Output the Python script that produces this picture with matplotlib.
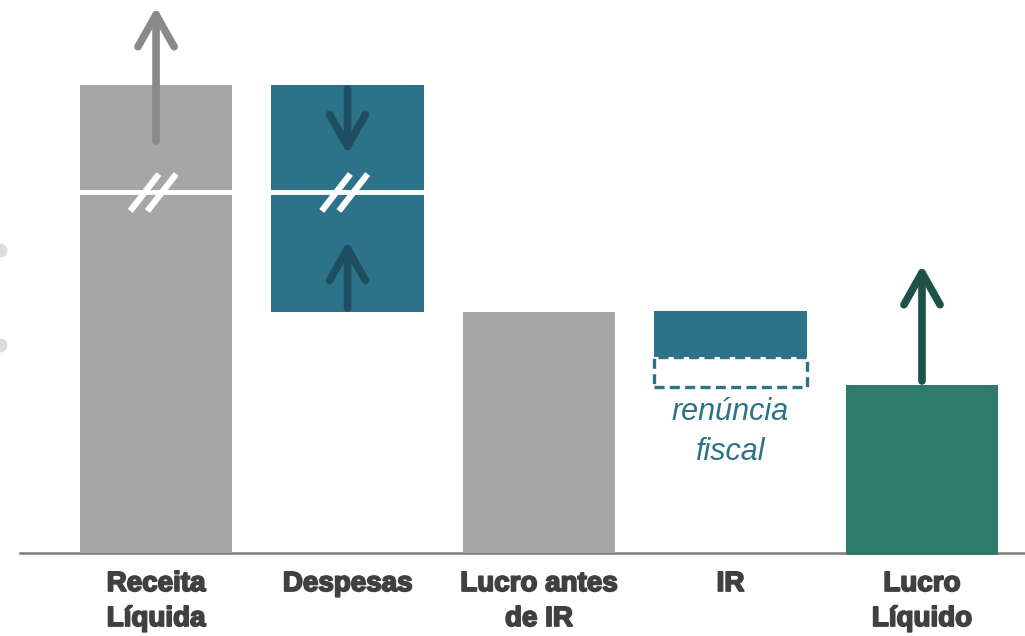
import matplotlib.pyplot as plt
import matplotlib.patheffects as pe
from matplotlib.patches import FancyArrowPatch, Rectangle

# categories and waterfall values (arbitrary units, baseline = 0)
labels = ["Receita\nLíquida", "Despesas", "Lucro antes\nde IR", "IR", "Lucro\nLíquido"]
bar_bottom = [0, 241, 0, 196, -2]
bar_top = [468, 468, 241, 242, 168]
bar_colors = ["#a6a6a6", "#2c738a", "#a6a6a6", "#2c738a", "#2e7a6c"]

ir_dashed = (166, 196)        # renúncia fiscal part of IR
break_level = 361             # axis break on the first two bars

# arrows: (category, start, end, colour)
arrows = [
    (0, 412, 546, "#8a8a8a"),
    (1, 464, 399, "#1f4e61"),
    (1, 245, 312, "#1f4e61"),
    (4, 172, 288, "#1e5148"),
]

fig = plt.figure(figsize=(10.25, 6.36), dpi=100)
ax = fig.add_axes([0, 0, 1, 1])
ax.set_xlim(-0.815, 4.538)
ax.set_ylim(-83, 553)
ax.axis("off")

x = range(len(labels))
heights = [t - b for t, b in zip(bar_top, bar_bottom)]
ax.bar(x, heights, bottom=bar_bottom, width=0.795, color=bar_colors, zorder=2)

# dashed "renúncia fiscal" box under IR
ax.add_patch(Rectangle((3 - 0.795 / 2, ir_dashed[0]), 0.795, ir_dashed[1] - ir_dashed[0],
                       facecolor="white", edgecolor="#2c738a", lw=2.4, ls=(0, (3, 1.6)), zorder=3))
ax.text(3, 121, "renúncia\nfiscal", ha="center", va="center", style="italic",
        fontsize=22, color="#2c738a", family="Liberation Sans", linespacing=1.4)

# baseline
ax.plot([-0.71, 4.54], [0, 0], color="#7a7a7a", lw=1.8, zorder=1)

# axis break on the first two bars
for i in [0, 1]:
    ax.plot([i - 0.4, i + 0.4], [break_level, break_level], color="white", lw=3.5, zorder=4)
    for dx in [-0.06, 0.03]:
        ax.plot([i + dx - 0.075, i + dx + 0.075], [break_level - 19, break_level + 18],
                color="white", lw=4.5, zorder=5, solid_capstyle="butt")

# arrows
for i, y0, y1, c in arrows:
    ar = FancyArrowPatch((i, y0), (i, y1), arrowstyle="->,head_length=23,head_width=13",
                         mutation_scale=1, lw=5.5, color=c, shrinkA=0, shrinkB=0,
                         capstyle="round", joinstyle="round", zorder=6)
    ax.add_patch(ar)

# category labels
for i, lab in enumerate(labels):
    ax.text(i, -18, lab, ha="center", va="top", fontsize=20, fontweight="bold",
            color="#404040", family="Liberation Sans", linespacing=1.45,
            path_effects=[pe.withStroke(linewidth=1.3, foreground="#404040")])

# faint marks cut off at the left edge
ax.plot([0, 0], [1 - 250 / 636, 1 - 345 / 636], "o", color="#dcdcdc", ms=9,
        transform=ax.transAxes, clip_on=False)

fig.savefig("out.png", dpi=100)
